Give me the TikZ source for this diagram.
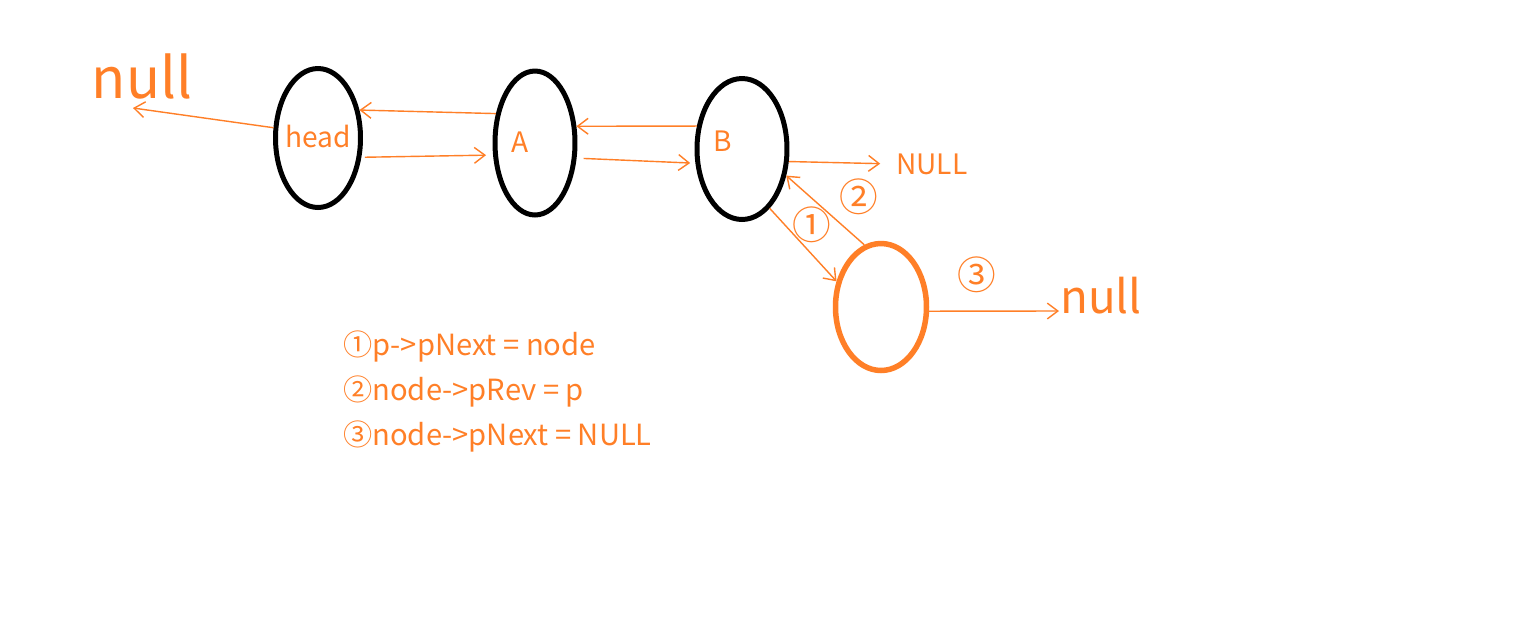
\documentclass[tikz,border=0pt]{standalone}
\usepackage{fontspec}
\setmainfont{Noto Sans CJK SC}
\usetikzlibrary{shapes.geometric,arrows.meta}
\definecolor{paintorange}{RGB}{255,127,39}
\begin{document}
\begin{tikzpicture}[x=0.02cm,y=-0.02cm,
  listnode/.style={draw=black,ellipse,line width=0.1cm,inner sep=0pt},
  newnode/.style={draw=paintorange,ellipse,line width=0.11cm,inner sep=0pt},
  ptr/.style={draw=paintorange,line width=0.8pt,-{Straight Barb[length=6pt,width=9pt,line width=0.8pt]}},
  lbl/.style={text=paintorange,font=\fontsize{16}{18}\selectfont,inner sep=0pt},
  codeline/.style={text=paintorange,font=\fontsize{16.6}{18}\selectfont,inner sep=0pt,anchor=west},
  hand/.style={text=paintorange,inner sep=0pt},
  step label/.style={text=paintorange,font=\fontsize{22}{24}\selectfont,inner sep=0pt}]
\useasboundingbox[fill=white] (0,0) rectangle (1522,637);

% nodes
\node[listnode,minimum width=1.70cm,minimum height=2.78cm] (head) at (318,138) {};
\node[listnode,minimum width=1.60cm,minimum height=2.88cm] (A) at (535,143) {};
\node[listnode,minimum width=1.80cm,minimum height=2.82cm] (B) at (742,149) {};
\node[newnode,minimum width=1.82cm,minimum height=2.54cm] (new) at (881,307) {};

% texts inside
\node[lbl] (headtxt) at (318,136) {head};
\node[lbl] (Atxt) at (520,142) {A};
\node[lbl] (Btxt) at (723,141) {B};
\node[lbl,anchor=west] (NULLr) at (896,164) {NULL};

% handwritten nulls
\node[hand,font=\fontsize{32}{34}\selectfont] (nullL) at (142,76) {null};
\node[hand,font=\fontsize{26}{28}\selectfont] (nullR) at (1101,296) {null};
\coordinate (nullLtip) at (133,108);
\coordinate (nullRtip) at (1059,311);

% step labels
\node[step label] (s1) at (812,225) {①};
\node[step label] (s2) at (859,197) {②};
\node[step label] (s3) at (977,275) {③};

% connectors
\draw[ptr] (head.167) -- (nullLtip);
\draw[ptr] (A.143) -- (head.34);
\draw[ptr,shorten <=2pt,shorten >=4pt] (head.-24) -- (A.196);
\draw[ptr] (B.153) -- (A.22);
\draw[ptr,shorten <=4pt,shorten >=3pt] (A.-20) -- (B.197);
\draw[ptr,shorten >=9pt] (B.-15) -- (NULLr.west);
\draw[ptr] (B.-65) -- (new.150);
\draw[ptr] (new.105) -- (B.-31);
\draw[ptr] (new.-5) -- (nullRtip);

% code list
\node[codeline] (l1) at (343,346) {①p->pNext = node};
\node[codeline] (l2) at (343,391) {②node->pRev = p};
\node[codeline] (l3) at (343,436) {③node->pNext = NULL};
\end{tikzpicture}
\end{document}
